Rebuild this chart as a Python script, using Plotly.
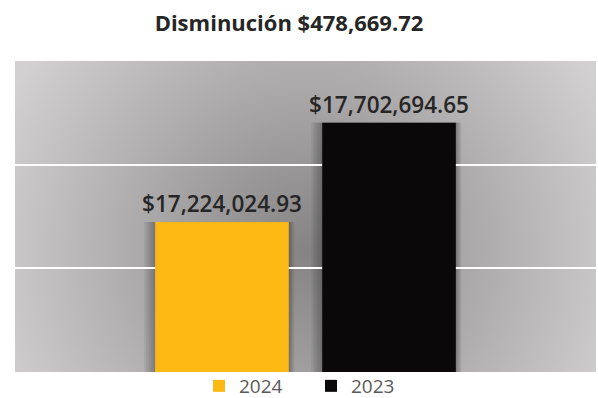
import base64
import plotly.graph_objects as go

# Data
periods = ["2024", "2023"]
totals = [17224024.93, 17702694.65]
bar_colors = ["#FDB913", "#0A0808"]
title_text = "Disminución $478,669.72"

BARGAP = 0.425
GROUPGAP = 0.2

# Radial grey gradient used as the plot-area backdrop
bg_svg = (
    '<svg xmlns="http://www.w3.org/2000/svg" width="581" height="311" '
    'viewBox="0 0 581 311" preserveAspectRatio="none">'
    '<defs><radialGradient id="g" gradientUnits="userSpaceOnUse" '
    'cx="292" cy="190" r="335">'
    '<stop offset="0" stop-color="#858383"/>'
    '<stop offset="1" stop-color="#d2d0d0"/>'
    '</radialGradient></defs>'
    '<rect x="0" y="0" width="581" height="311" fill="url(#g)"/></svg>'
)
bg_uri = "data:image/svg+xml;base64," + base64.b64encode(bg_svg.encode()).decode()

fig = go.Figure()
for name, val, col in zip(periods, totals, bar_colors):
    fig.add_trace(go.Bar(
        x=[""], y=[val], name=name,
        marker=dict(color=col, line=dict(width=0)),
        text=[f"${val:,.2f}"], textposition="outside",
        textfont=dict(family="Open Sans", size=22.5, color="#262626", weight=600),
        constraintext="none", cliponaxis=False,
    ))

# Soft drop shadow behind each bar (paper x derived from the group geometry)
group_w = 1 - BARGAP
slot_w = group_w / len(periods)
shapes = []
for i, val in enumerate(totals):
    left = BARGAP / 2 + i * slot_w + slot_w * GROUPGAP / 2
    right = left + slot_w * (1 - GROUPGAP)
    for k in range(1, 6):
        pad = k * 2.2 / 581
        shapes.append(dict(
            type="rect", xref="paper", yref="y", layer="below",
            x0=left - pad, x1=right + pad * 0.5, y0=16.5e6, y1=val,
            fillcolor="rgba(40,38,38,0.08)", line=dict(width=0),
        ))

fig.update_layout(
    width=598, height=398,
    margin=dict(l=15, r=2, t=61, b=26, autoexpand=False),
    paper_bgcolor="white", plot_bgcolor="rgba(0,0,0,0)",
    barmode="group", bargap=BARGAP, bargroupgap=GROUPGAP,
    title=dict(text=title_text, x=289 / 598, xanchor="center",
               y=1 - 23 / 398, yanchor="middle",
               font=dict(family="Open Sans", size=22, color="#262626", weight=700)),
    xaxis=dict(showticklabels=False, showgrid=False, zeroline=False, showline=False),
    yaxis=dict(range=[16.5e6, 18e6], dtick=0.5e6, showticklabels=False,
               gridcolor="white", gridwidth=2, zeroline=False, showline=False),
    showlegend=True,
    legend=dict(orientation="h", xref="container", yref="container",
                x=311 / 598, xanchor="center", y=1 - 367 / 398, yanchor="top",
                font=dict(family="Open Sans", size=19, color="#595959"),
                itemwidth=30, entrywidth=67, bgcolor="rgba(0,0,0,0)",
                traceorder="normal"),
    shapes=shapes,
    images=[dict(source=bg_uri, xref="paper", yref="paper", x=0, y=1,
                 sizex=1, sizey=1, sizing="stretch", layer="below")],
)

fig.write_html("out.html")
